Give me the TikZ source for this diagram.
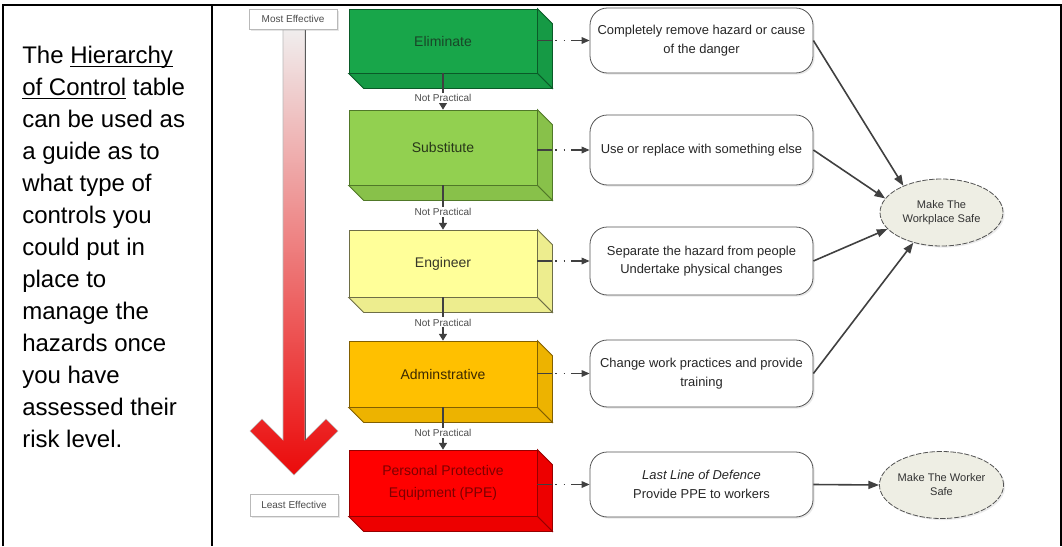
\documentclass[tikz,border=0pt]{standalone}
\usepackage{fontspec}
\setmainfont{Liberation Sans}
\usetikzlibrary{arrows.meta,calc,shapes.geometric,shadows}
\definecolor{elimfill}{RGB}{24,166,74}
\definecolor{elimedge}{RGB}{10,90,40}
\definecolor{elimtext}{RGB}{25,70,40}
\definecolor{subfill}{RGB}{146,208,80}
\definecolor{subedge}{RGB}{80,120,40}
\definecolor{subtext}{RGB}{40,55,25}
\definecolor{engfill}{RGB}{255,255,153}
\definecolor{engedge}{RGB}{110,110,70}
\definecolor{engtext}{RGB}{55,55,40}
\definecolor{admfill}{RGB}{255,192,0}
\definecolor{admedge}{RGB}{130,95,0}
\definecolor{admtext}{RGB}{60,40,0}
\definecolor{ppefill}{RGB}{255,0,0}
\definecolor{ppeedge}{RGB}{150,0,0}
\definecolor{ppetext}{RGB}{125,0,0}
\definecolor{conn}{RGB}{64,64,64}
\definecolor{ellfill}{RGB}{238,238,228}
\definecolor{arrtop}{RGB}{240,238,238}
\definecolor{arrmid}{RGB}{240,125,125}
\definecolor{arrbot}{RGB}{235,10,10}

\newcommand\myul[1]{\leavevmode\setbox0\hbox{#1}\rlap{\rule[-3.2pt]{\wd0}{0.9pt}}\box0\relax}

\tikzset{
  tableline/.style={line width=1.5pt, black},
  lefttext/.style={inner sep=0pt, align=left, font=\fontsize{18}{24}\selectfont},
  block/.style={line width=0.6pt, inner sep=0pt, align=center, font=\fontsize{10.5}{16}\selectfont, minimum width=141pt},
  desc/.style={draw=conn!90, line width=0.6pt, rounded corners=13pt, fill=white, minimum width=167.25pt,
     align=center, inner sep=0pt, font=\fontsize{9.7}{14}\selectfont, text=black!85,
     drop shadow={opacity=0.18, shadow xshift=1.2pt, shadow yshift=-1.2pt}},
  goal/.style={ellipse, draw=conn!90, dash pattern=on 4pt off 1.2pt, line width=0.6pt, fill=ellfill,
     minimum width=92.25pt, minimum height=50.25pt, inner sep=0pt, align=center,
     font=\fontsize{8.3}{10.5}\selectfont, text=black!80,
     drop shadow={opacity=0.15, shadow xshift=1.2pt, shadow yshift=-1.2pt}},
  effbox/.style={draw=gray!55, fill=white, line width=0.5pt, minimum width=66pt, inner sep=0pt,
     font=\fontsize{7.5}{9}\selectfont, text=black!70,
     drop shadow={opacity=0.2, shadow xshift=1.2pt, shadow yshift=-1.2pt}},
  npline/.style={draw=conn, line width=0.8pt, -{Triangle[length=5pt,width=6pt]}},
  nplabel/.style={fill=white, inner sep=1pt, font=\fontsize{7.5}{9}\selectfont, text=black!70},
  dotconn/.style={draw=conn, line width=0.9pt, -{Triangle[length=6pt,width=5pt]},
     dash pattern=on 11pt off 2.5pt on 1.2pt off 5pt on 1.2pt off 4.5pt on 40pt},
  ellarrow/.style={draw=conn, line width=1.2pt, -{Triangle[length=8pt,width=6pt]}}
}

\newcommand\hocblock[9]{%
  \node[block, minimum height=#5, fill=#6, draw=#7, text=#8] (#1) at (#2,#3) {#9};
  \filldraw[fill=#6!93!black, draw=#7, line width=0.6pt] (#1.north east) -- ++(15,15) -- ($(#1.south east)+(15,15)$) -- (#1.south east) -- cycle;
  \filldraw[fill=#6!93!black, draw=#7, line width=0.6pt] (#1.south west) -- ++(15,15) -- ($(#1.south east)+(15,15)$) -- (#1.south east) -- cycle;
}

\begin{document}
\begin{tikzpicture}[x=0.75pt,y=-0.75pt]
\useasboundingbox (0,0) rectangle (1062,546);

% table frame
\draw[tableline] (3,546) -- (3,4.5) -- (1060.5,4.5) -- (1060.5,546);
\draw[tableline] (211.5,4.5) -- (211.5,546);

% left text (base anchor = baseline of last line)
\node[lefttext, anchor=base west] (intro) at (22,447) {The \myul{Hierarchy}\\
\myul{of Control} table\\
can be used as\\
a guide as to\\
what type of\\
controls you\\
could put in\\
place to\\
manage the\\
hazards once\\
you have\\
assessed their\\
risk level.};

% effectiveness arrow
\shadedraw[top color=arrtop, middle color=arrmid, bottom color=arrbot, draw=gray!55, line width=0.4pt]
  (283,29) -- (283,440) -- (262,419) -- (250,431) -- (294,475) -- (338,431) -- (326,419) -- (305,440) -- (305,29) -- cycle;
\draw[black!65, line width=0.7pt] (305,29) -- (305,440);
\node[effbox, minimum height=15pt] (most) at (293,19) {Most Effective};
\node[effbox, minimum height=16.5pt] (least) at (294,505) {Least Effective};

% hierarchy blocks
\hocblock{elim}{443}{41}{141pt}{48pt}{elimfill}{elimedge}{elimtext}{Eliminate}
\hocblock{sub}{443}{147.5}{141pt}{56.25pt}{subfill}{subedge}{subtext}{Substitute}
\hocblock{eng}{443}{263.5}{141pt}{50.25pt}{engfill}{engedge}{engtext}{Engineer}
\hocblock{adm}{443}{374}{141pt}{49.5pt}{admfill}{admedge}{admtext}{Adminstrative}
\hocblock{ppe}{443}{483}{141pt}{49.5pt}{ppefill}{ppeedge}{ppetext}{Personal Protective\\Equipment (PPE)}

% not practical connectors
\draw[npline] (elim.south) -- node[nplabel, pos=0.68] {Not Practical} (sub.north);
\draw[npline] (sub.south) -- node[nplabel, pos=0.6] {Not Practical} (eng.north);
\draw[npline] (eng.south) -- node[nplabel, pos=0.58] {Not Practical} (adm.north);
\draw[npline] (adm.south) -- node[nplabel, pos=0.6] {Not Practical} (ppe.north);

% descriptions
\node[desc, minimum height=48.75pt] (d1) at (701.5,40.5) {Completely remove hazard or cause\\of the danger};
\node[desc, minimum height=52.5pt] (d2) at (701.5,150) {Use or replace with something else};
\node[desc, minimum height=51pt] (d3) at (701.5,261) {Separate the hazard from people\\Undertake physical changes};
\node[desc, minimum height=50.25pt] (d4) at (701.5,373.5) {Change work practices and provide\\training};
\node[desc, minimum height=48.75pt] (d5) at (701.5,484.5) {\textit{Last Line of Defence}\\Provide PPE to workers};

\draw[dotconn] (d1.west -| elim.east) -- (d1.west);
\draw[dotconn] (d2.west -| sub.east) -- (d2.west);
\draw[dotconn] (d3.west -| eng.east) -- (d3.west);
\draw[dotconn] (d4.west -| adm.east) -- (d4.west);
\draw[dotconn] (d5.west -| ppe.east) -- (d5.west);

% goals
\node[goal] (ws) at (941.5,212.5) {Make The\\Workplace Safe};
\node[goal] (wk) at (941.5,485) {Make The Worker\\Safe};

\draw[ellarrow] (d1.east) -- (ws.145);
\draw[ellarrow] (d2.east) -- (ws.166);
\draw[ellarrow] (d3.east) -- (ws.197);
\draw[ellarrow] (d4.east) -- (ws.227);
\draw[ellarrow] (d5.east) -- (wk.west);
\end{tikzpicture}
\end{document}
